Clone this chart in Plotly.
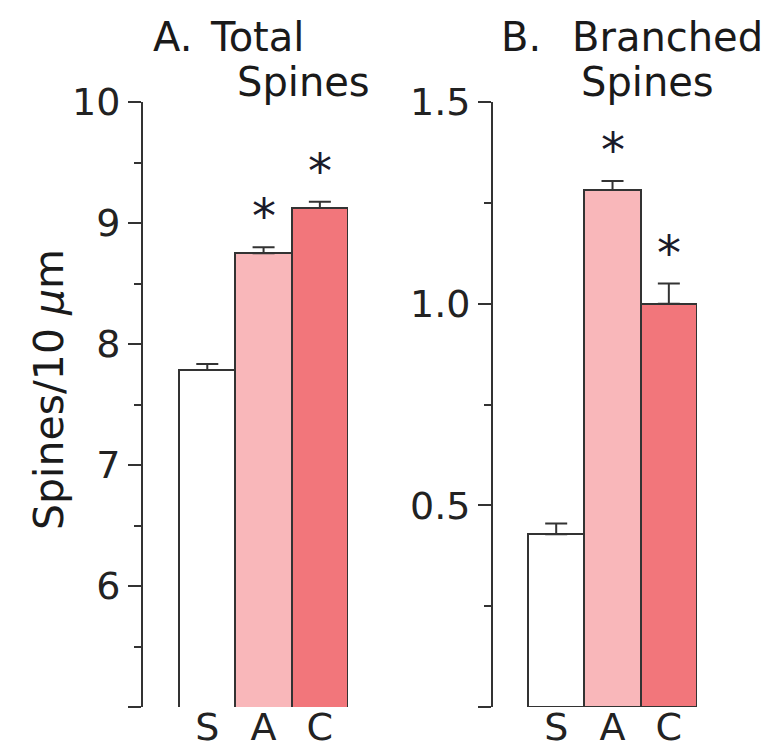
import plotly.graph_objects as go

W, H = 773, 752
OFF = 8  # browser body margin
FW, FH = W - 2 * OFF, H - 2 * OFF

categories = ["S", "A", "C"]
total_means = [7.785, 8.75, 9.125]
total_errs = [0.05, 0.05, 0.05]
branched_means = [0.428, 1.282, 1.0]
branched_errs = [0.027, 0.022, 0.05]
total_ticks = [5, 6, 7, 8, 9, 10]
total_ticktext = ["", "6", "7", "8", "9", "10"]
branched_ticks = [0, 0.5, 1.0, 1.5]
branched_ticktext = ["", "0.5", "1.0", "1.5"]
significant = [False, True, True]

colors = ["#FFFFFF", "#F9B7BA", "#F2767B"]
edge = "#333333"
xs = [0, 1, 2]

fig = go.Figure()
for means, errs, xa, ya in [(total_means, total_errs, "x", "y"),
                             (branched_means, branched_errs, "x2", "y2")]:
    fig.add_trace(go.Bar(
        x=xs, y=means, width=1.0, xaxis=xa, yaxis=ya,
        marker=dict(color=colors, line=dict(color=edge, width=2)),
        error_y=dict(type="data", array=errs, arrayminus=[0] * len(errs),
                     symmetric=False, color=edge, thickness=2, width=11),
        showlegend=False,
    ))


def px(x):
    return (x - OFF) / FW


def py(y):
    return (FH - (y - OFF)) / FH


tickfont = dict(family="DejaVu Sans", size=38, color="#222")
axis_common = dict(showline=True, linecolor=edge, linewidth=2, ticks="outside",
                   ticklen=13, tickwidth=2, tickcolor=edge, showgrid=False,
                   zeroline=False, tickfont=tickfont, automargin=False)
xaxis_common = dict(tickvals=xs, ticktext=categories, ticks="", showline=False,
                    showgrid=False, zeroline=False, tickfont=tickfont, automargin=False,
                    ticklabelstandoff=-6)

fig.update_layout(
    template="none",
    width=FW, height=FH, margin=dict(l=0, r=0, t=0, b=0, pad=0),
    plot_bgcolor="white", paper_bgcolor="white", bargap=0,
    xaxis=dict(domain=[px(142), px(348)], range=[-1.16, 2.5], anchor="y", **xaxis_common),
    xaxis2=dict(domain=[px(492), px(697)], range=[-1.14, 2.5], anchor="y2", **xaxis_common),
    yaxis=dict(domain=[py(707), py(102)], range=[5, 10], tickvals=total_ticks,
               ticktext=total_ticktext, anchor="free", position=px(142),
               minor=dict(dtick=0.5, tick0=5, ticks="outside", ticklen=7,
                          tickwidth=2, tickcolor=edge, showgrid=False),
               **axis_common),
    yaxis2=dict(domain=[py(707), py(102)], range=[0, 1.5], tickvals=branched_ticks,
                ticktext=branched_ticktext, anchor="free", position=px(492),
                minor=dict(dtick=0.25, tick0=0, ticks="outside", ticklen=7,
                           tickwidth=2, tickcolor=edge, showgrid=False),
                **axis_common),
)

titlefont = dict(family="DejaVu Sans", size=40, color="#1a1a1a")
ann = []
ann.append(dict(text="A.", x=px(151), y=py(37), xanchor="left", yanchor="middle"))
ann.append(dict(text="Total", x=px(208), y=py(37), xanchor="left", yanchor="middle"))
ann.append(dict(text="Spines", x=px(235), y=py(82), xanchor="left", yanchor="middle"))
ann.append(dict(text="B.", x=px(499), y=py(37), xanchor="left", yanchor="middle"))
ann.append(dict(text="Branched", x=px(570), y=py(37), xanchor="left", yanchor="middle"))
ann.append(dict(text="Spines", x=px(579), y=py(82), xanchor="left", yanchor="middle"))
for a in ann:
    a.update(xref="paper", yref="paper", showarrow=False, font=titlefont)
    fig.add_annotation(**a)

fig.add_annotation(text="Spines/10 <i>μ</i>m", x=px(49), y=py(390), xref="paper", yref="paper",
                   textangle=-90, showarrow=False, xanchor="center", yanchor="middle",
                   font=dict(family="DejaVu Sans", size=41, color="#1a1a1a"))

for means, errs, xa, ya in [(total_means, total_errs, "x", "y"),
                             (branched_means, branched_errs, "x2", "y2")]:
    for i, sig in enumerate(significant):
        if sig:
            fig.add_annotation(text="*", x=xs[i], y=means[i] + errs[i], xref=xa, yref=ya,
                               showarrow=False, yanchor="middle", yshift=31,
                               font=dict(family="DejaVu Sans", size=48, color="#1a1a2a"))

fig.write_html("out.html")
